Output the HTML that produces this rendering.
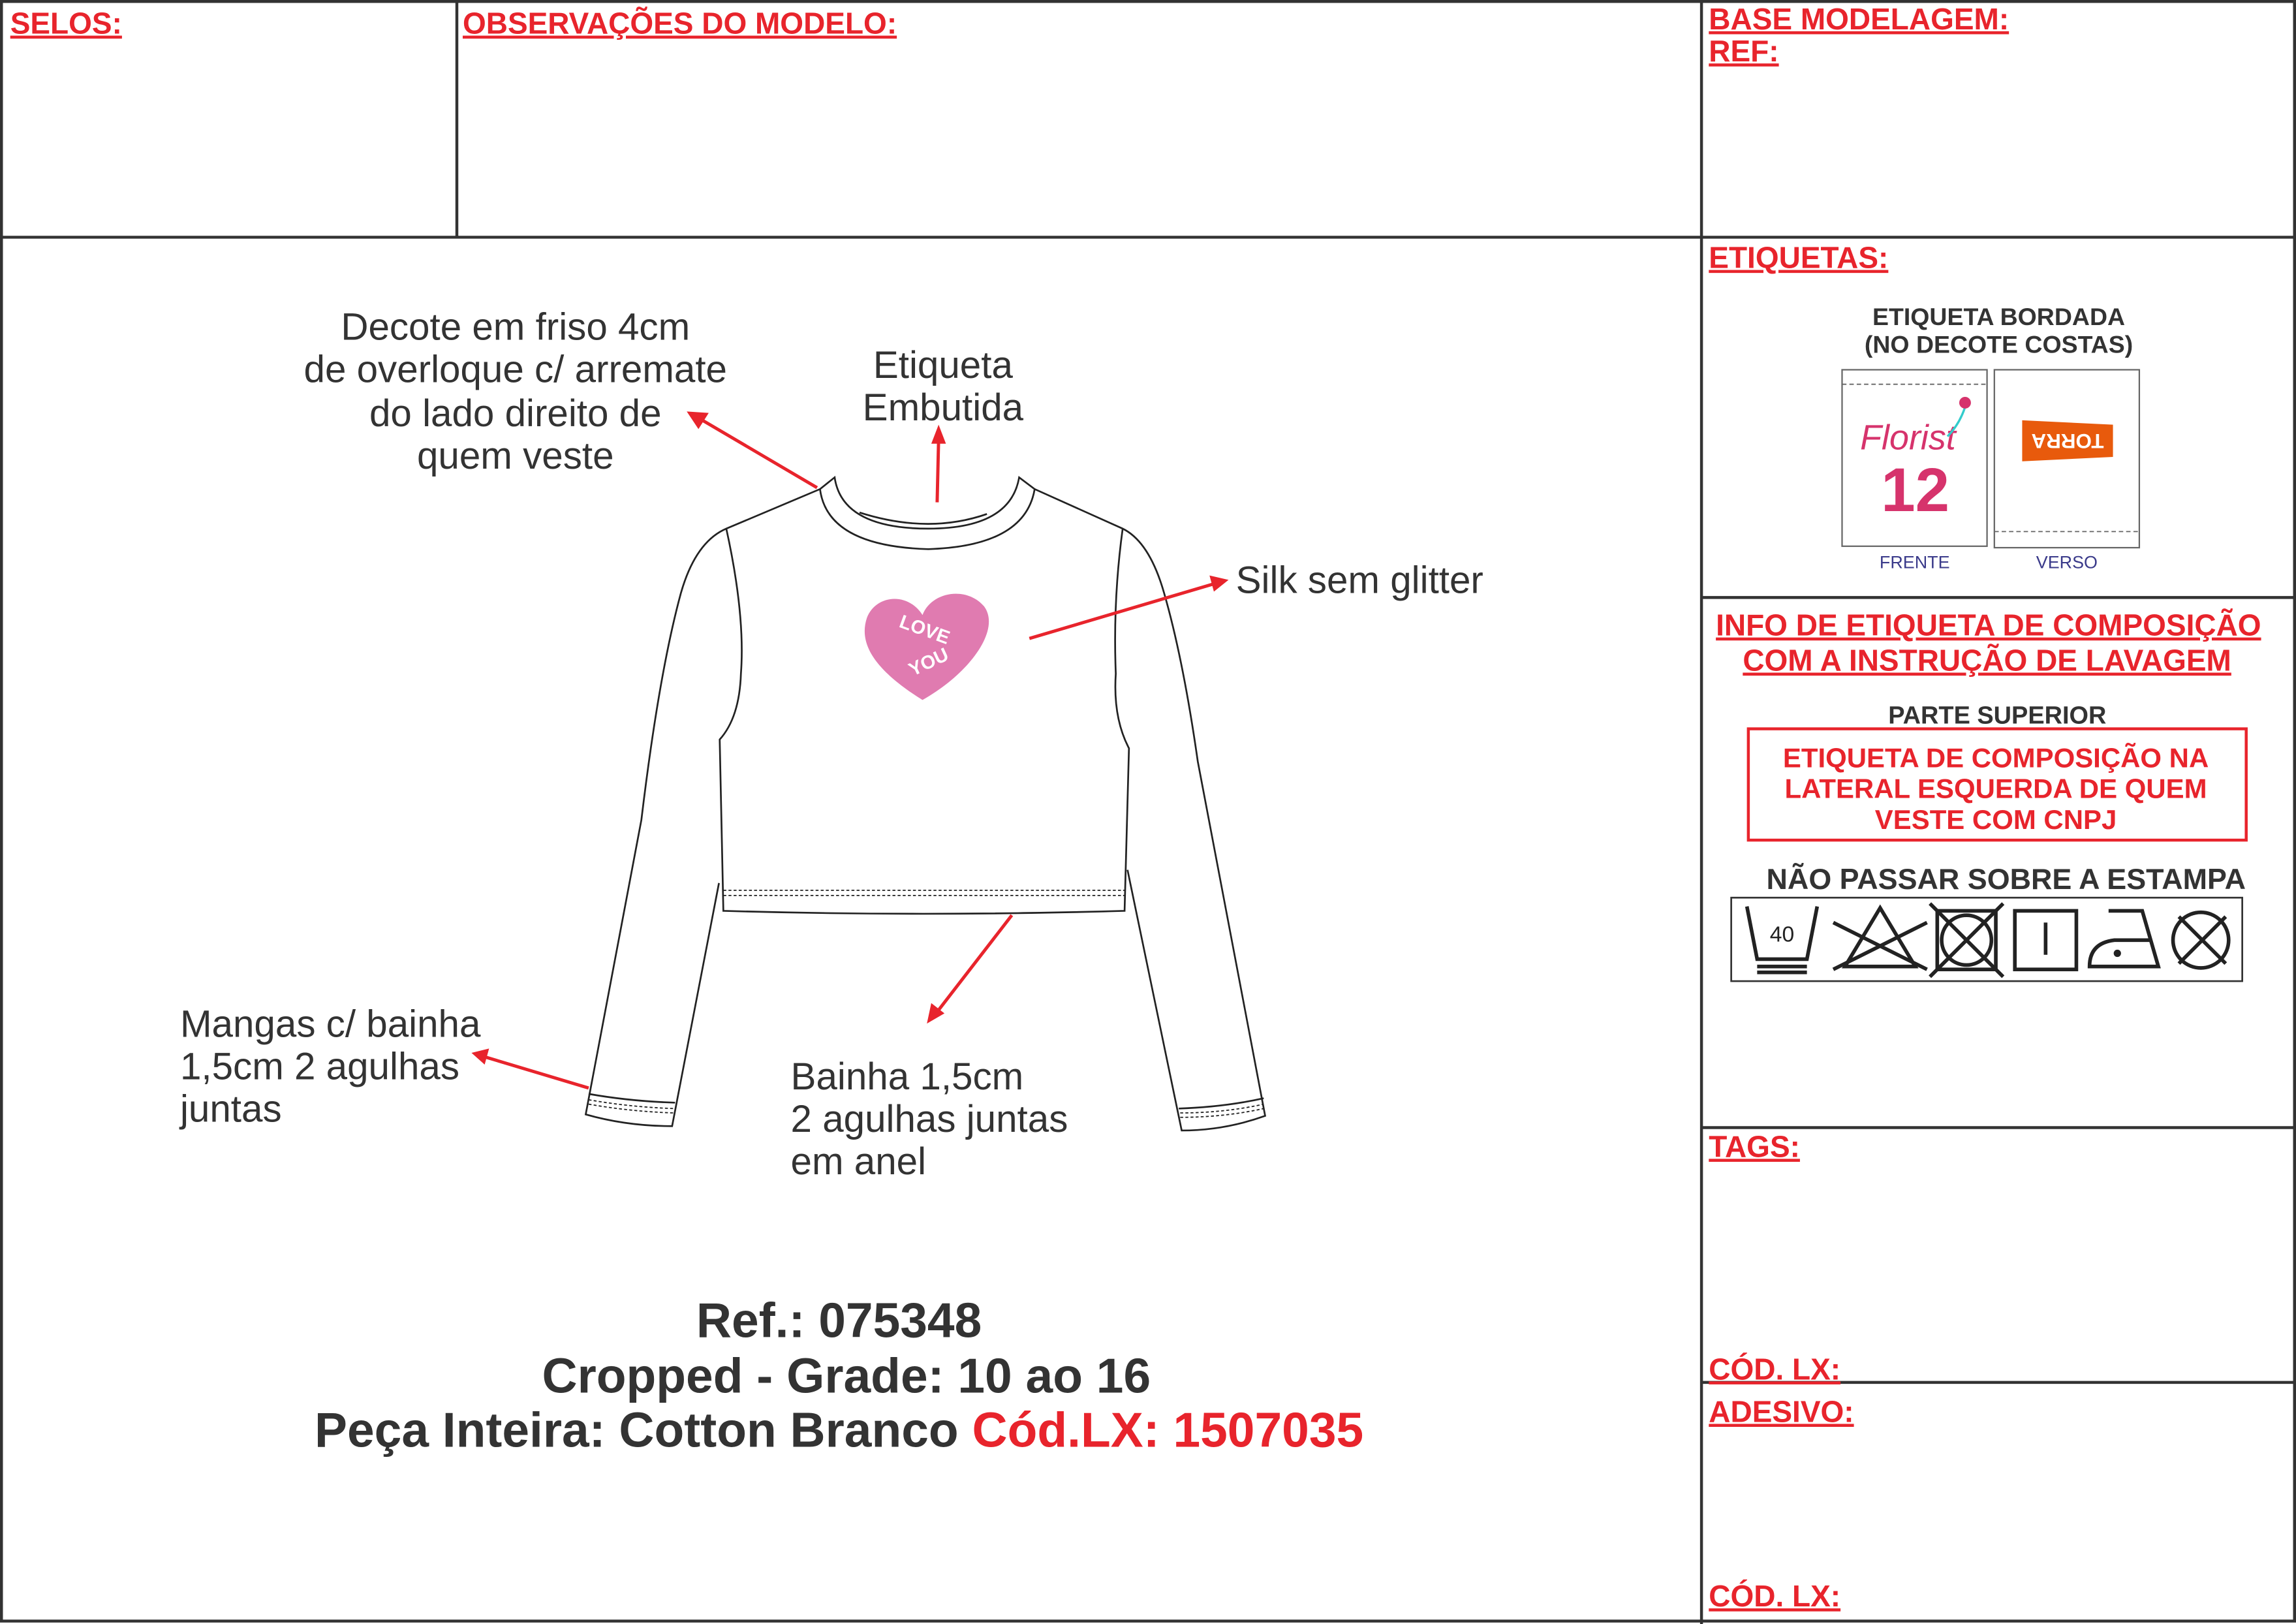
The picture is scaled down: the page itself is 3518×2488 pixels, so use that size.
<!DOCTYPE html>
<html><head><meta charset="utf-8"><style>
html,body{margin:0;padding:0;background:#fff}
svg{display:block}
text{font-family:"Liberation Sans",Arial,sans-serif}
.h{fill:#e8242c;font-weight:bold;font-size:20.5px;text-decoration:underline}
.n{fill:#333;font-size:26px}
.b{fill:#333;font-weight:bold;font-size:33.4px}
</style></head><body>
<svg width="3518" height="2488" viewBox="0 0 1568 1109" preserveAspectRatio="none" xmlns="http://www.w3.org/2000/svg">
<rect x="0" y="0" width="1568" height="1109" fill="#fff"/>
<g stroke="#333" stroke-width="2" fill="none">
<rect x="1" y="1" width="1566" height="1106"/>
<line x1="0" y1="162" x2="1568" y2="162"/>
<line x1="312" y1="0" x2="312" y2="162"/>
<line x1="1162" y1="0" x2="1162" y2="1109"/>
<line x1="1162" y1="408" x2="1568" y2="408"/>
<line x1="1162" y1="770" x2="1568" y2="770"/>
<line x1="1162" y1="944" x2="1568" y2="944"/>
</g>
<text class="h" x="7" y="23">SELOS:</text>
<text class="h" x="316" y="23">OBSERVAÇÕES DO MODELO:</text>
<text class="h" x="1167" y="20">BASE MODELAGEM:</text>
<text class="h" x="1167" y="42">REF:</text>
<text class="h" x="1167" y="183">ETIQUETAS:</text>
<text class="h" x="1167" y="790">TAGS:</text>
<text class="h" x="1167" y="942">CÓD. LX:</text>
<text class="h" x="1167" y="971">ADESIVO:</text>
<text class="h" x="1167" y="1097">CÓD. LX:</text>

<!-- etiquetas -->
<text x="1365" y="222" font-size="16.7" font-weight="bold" fill="#333" text-anchor="middle">ETIQUETA BORDADA</text>
<text x="1365" y="241" font-size="16.7" font-weight="bold" fill="#333" text-anchor="middle">(NO DECOTE COSTAS)</text>
<rect x="1258" y="252.5" width="99" height="120.5" fill="none" stroke="#666" stroke-width="1"/>
<line x1="1258" y1="262.4" x2="1357" y2="262.4" stroke="#666" stroke-width="0.8" stroke-dasharray="3,2"/>
<rect x="1362" y="252.5" width="99" height="121.5" fill="none" stroke="#666" stroke-width="1"/>
<line x1="1362" y1="363" x2="1461" y2="363" stroke="#666" stroke-width="0.8" stroke-dasharray="3,2"/>
<text x="1303" y="307" font-size="24" font-style="italic" fill="#d6336c" text-anchor="middle" font-family="Liberation Serif">Florist</text>
<path d="M1330,298 q8,-8 12,-20" stroke="#3cc" stroke-width="1.5" fill="none"/>
<circle cx="1342" cy="275" r="4" fill="#d6336c"/>
<text x="1308" y="349" font-size="42" font-weight="bold" fill="#d6336c" text-anchor="middle">12</text>
<polygon points="1381,287 1443,290 1443,312 1381,315" fill="#e85a0c"/>
<text x="1412" y="301" font-size="14" font-weight="bold" fill="#fff" text-anchor="middle" dominant-baseline="central" transform="rotate(180 1412 301)">TORRA</text>
<text x="1307.6" y="388" font-size="12" fill="#3a3a8a" text-anchor="middle">FRENTE</text>
<text x="1411.5" y="388" font-size="12" fill="#3a3a8a" text-anchor="middle">VERSO</text>

<text class="h" x="1358" y="434" text-anchor="middle" font-size="21.8">INFO DE ETIQUETA DE COMPOSIÇÃO</text>
<text class="h" x="1357" y="458" text-anchor="middle" font-size="21.8">COM A INSTRUÇÃO DE LAVAGEM</text>
<text x="1364" y="494" font-size="16.9" font-weight="bold" fill="#333" text-anchor="middle">PARTE SUPERIOR</text>
<rect x="1194" y="497.7" width="340" height="76" fill="none" stroke="#e8242c" stroke-width="2"/>
<text x="1363" y="524" font-size="18.7" font-weight="bold" fill="#e8242c" text-anchor="middle">ETIQUETA DE COMPOSIÇÃO NA</text>
<text x="1363" y="545" font-size="18.7" font-weight="bold" fill="#e8242c" text-anchor="middle">LATERAL ESQUERDA DE QUEM</text>
<text x="1363" y="566" font-size="18.7" font-weight="bold" fill="#e8242c" text-anchor="middle">VESTE COM CNPJ</text>
<text x="1370" y="607" font-size="20" font-weight="bold" fill="#333" text-anchor="middle">NÃO PASSAR SOBRE A ESTAMPA</text>
<rect x="1182.3" y="613" width="349" height="57" fill="none" stroke="#333" stroke-width="1.2"/>
<g stroke="#222" stroke-width="2.5" fill="none">
<path d="M1193,619 L1200,655 L1234,655 L1241,619"/>
<line x1="1200" y1="660" x2="1234" y2="660"/><line x1="1200" y1="664" x2="1234" y2="664"/>
<path d="M1284,620 L1308,660 L1260,660 Z"/>
<line x1="1252" y1="630" x2="1316" y2="662"/><line x1="1252" y1="662" x2="1316" y2="630"/>
<rect x="1323" y="622" width="40" height="40"/><circle cx="1343" cy="642" r="17"/>
<line x1="1318" y1="617" x2="1368" y2="667"/><line x1="1318" y1="667" x2="1368" y2="617"/>
<rect x="1376" y="622" width="42" height="40"/>
<line x1="1397" y1="630" x2="1397" y2="652"/>
<path d="M1440,622 L1463,622 L1474,660 L1427,660 Q1427,644 1444,642 L1468,642"/>
<circle cx="1503" cy="642" r="19"/>
<line x1="1488" y1="626" x2="1520" y2="658"/><line x1="1488" y1="658" x2="1520" y2="626"/>
</g>
<circle cx="1446" cy="651" r="2.5" fill="#222"/>
<text x="1217" y="643" font-size="15" fill="#222" text-anchor="middle">40</text>

<!-- shirt -->
<g stroke="#222" stroke-width="1.2" fill="none">
<path d="M560,334 L496,361 Q475,370 465,405 Q450,460 438,560 L400,761 Q428,769 459,769 L491,603"/>
<path d="M706.6,334 L766.7,361 Q785,370 795,405 Q808,450 818,520 L864,762 Q836,772 807,772 L770,594"/>
<path d="M496,361 Q509,420 506,460 Q505,490 491.5,505 L494,622 Q630,626 768,622 L771,511 Q760,490 762,460 Q760,410 766.7,361"/>
<path d="M560,334 Q565,373 634,375 Q700,373 706.6,334 L696,326 Q690,361 634,361 Q575,361 570,326 Z"/>
<path d="M587,350 Q634,365 674,351"/>
<path d="M402,747 Q430,752 461,753"/>
<path d="M805,757 Q836,756 863,750"/>
</g>
<g stroke="#222" stroke-width="0.8" fill="none" stroke-dasharray="2,1.5">
<line x1="494" y1="608" x2="768" y2="608"/><line x1="494" y1="611.5" x2="768" y2="611.5"/>
<path d="M402,751 Q430,756 460,757"/><path d="M402,754 Q430,759 460,760"/>
<path d="M806,760 Q836,760 863,754"/><path d="M806,763 Q836,763 863,757"/>
</g>
<path d="M630,478 C598,458 586,440 592,422 C598,406 620,404 630,420 C636,404 660,400 672,414 C684,430 662,460 630,478 Z" fill="#e07bb0"/>
<text x="630" y="434" font-size="13" font-weight="bold" fill="#fff" text-anchor="middle" transform="rotate(20 630 434)">LOVE</text>
<text x="636" y="456" font-size="13" font-weight="bold" fill="#fff" text-anchor="middle" transform="rotate(-25 636 456)">YOU</text>

<!-- arrows -->
<g stroke="#e8242c" stroke-width="2.2" fill="#e8242c">
<line x1="558" y1="333" x2="478" y2="286"/><polygon points="469,281 484,282 477,293" stroke="none"/>
<line x1="640" y1="343" x2="641" y2="300"/><polygon points="641,290 636,303 646,303" stroke="none"/>
<line x1="703" y1="436" x2="828" y2="399"/><polygon points="839,396 826,393 829,404" stroke="none"/>
<line x1="691" y1="625" x2="640" y2="691"/><polygon points="633,699 636,685 645,692" stroke="none"/>
<line x1="402" y1="743" x2="332" y2="722"/><polygon points="322,719 334,716 331,727" stroke="none"/>
</g>

<text class="n" x="352" y="232" text-anchor="middle">Decote em friso 4cm</text>
<text class="n" x="352" y="261" text-anchor="middle">de overloque c/ arremate</text>
<text class="n" x="352" y="291" text-anchor="middle">do lado direito de</text>
<text class="n" x="352" y="320" text-anchor="middle">quem veste</text>
<text class="n" x="644" y="258" text-anchor="middle">Etiqueta</text>
<text class="n" x="644" y="287" text-anchor="middle">Embutida</text>
<text class="n" x="844" y="405">Silk sem glitter</text>
<text class="n" x="123" y="708">Mangas c/ bainha</text>
<text class="n" x="123" y="737">1,5cm 2 agulhas</text>
<text class="n" x="123" y="766">juntas</text>
<text class="n" x="540" y="744">Bainha 1,5cm</text>
<text class="n" x="540" y="773">2 agulhas juntas</text>
<text class="n" x="540" y="802">em anel</text>

<text class="b" x="573" y="913" text-anchor="middle">Ref.: 075348</text>
<text class="b" x="578" y="951" text-anchor="middle">Cropped - Grade: 10 ao 16</text>
<text class="b" x="573" y="988" text-anchor="middle">Peça Inteira: Cotton Branco <tspan fill="#e8242c">Cód.LX: 1507035</tspan></text>
</svg>
</body></html>
